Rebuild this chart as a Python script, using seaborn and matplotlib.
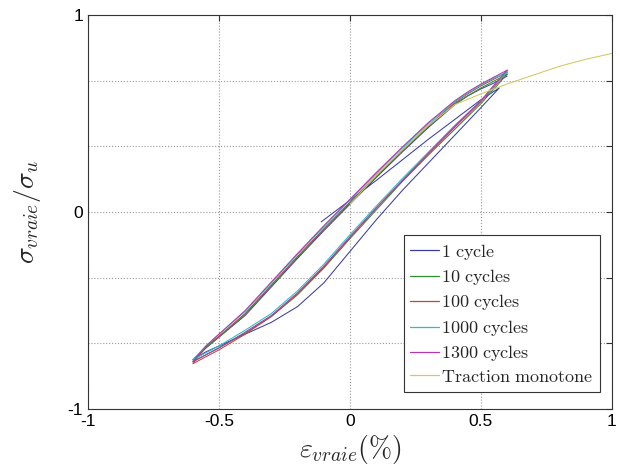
import matplotlib
matplotlib.use('Agg')
import matplotlib.pyplot as plt
from matplotlib.lines import Line2D
import seaborn as sns

# cycle 1 : unloading, reloading, partial unloading
c1_x = [0.6, 0.55, 0.5, 0.45, 0.4, 0.3, 0.2, 0.1, 0.0, -0.1, -0.2, -0.3, -0.4, -0.5, -0.55, -0.6,
        -0.55, -0.5, -0.4, -0.3, -0.2, -0.1, 0.0, 0.1, 0.2, 0.3, 0.4, 0.5, 0.57,
        0.5, 0.4, 0.3, 0.2, 0.1, 0.0, -0.11]
c1_y = [0.69, 0.655, 0.625, 0.59, 0.545, 0.43, 0.305, 0.175, 0.04, -0.095, -0.235, -0.38, -0.525, -0.635, -0.69, -0.75,
        -0.71, -0.68, -0.62, -0.56, -0.48, -0.36, -0.2, -0.04, 0.11, 0.25, 0.39, 0.53, 0.63,
        0.57, 0.47, 0.37, 0.265, 0.16, 0.06, -0.05]

c10_x = [0.6, 0.55, 0.5, 0.45, 0.4, 0.3, 0.2, 0.1, 0.0, -0.1, -0.2, -0.3, -0.4, -0.5, -0.55, -0.6,
         -0.55, -0.5, -0.4, -0.3, -0.2, -0.1, 0.0, 0.1, 0.2, 0.3, 0.4, 0.5, 0.55, 0.6]
c10_y = [0.7, 0.665, 0.63, 0.59, 0.55, 0.435, 0.31, 0.18, 0.045, -0.09, -0.23, -0.375, -0.52, -0.635, -0.69, -0.76,
         -0.725, -0.69, -0.615, -0.53, -0.42, -0.285, -0.135, 0.01, 0.155, 0.29, 0.42, 0.55, 0.625, 0.7]

c100_x = [0.6, 0.55, 0.5, 0.45, 0.4, 0.3, 0.2, 0.1, 0.0, -0.1, -0.2, -0.3, -0.4, -0.5, -0.55, -0.6,
          -0.55, -0.5, -0.4, -0.3, -0.2, -0.1, 0.0, 0.1, 0.2, 0.3, 0.4, 0.5, 0.55, 0.6]
c100_y = [0.71, 0.675, 0.64, 0.6, 0.555, 0.44, 0.315, 0.185, 0.05, -0.085, -0.225, -0.37, -0.515, -0.63, -0.685, -0.77,
          -0.735, -0.7, -0.62, -0.53, -0.415, -0.28, -0.13, 0.02, 0.16, 0.295, 0.43, 0.56, 0.635, 0.71]

c1000_x = [0.6, 0.55, 0.5, 0.45, 0.4, 0.3, 0.2, 0.1, 0.0, -0.1, -0.2, -0.3, -0.4, -0.5, -0.55, -0.6,
           -0.55, -0.5, -0.4, -0.3, -0.2, -0.1, 0.0, 0.1, 0.2, 0.3, 0.4, 0.5, 0.55, 0.6]
c1000_y = [0.71, 0.68, 0.645, 0.605, 0.56, 0.45, 0.325, 0.195, 0.06, -0.075, -0.215, -0.36, -0.505, -0.62, -0.68, -0.75,
           -0.715, -0.68, -0.6, -0.515, -0.4, -0.265, -0.115, 0.03, 0.17, 0.305, 0.44, 0.565, 0.64, 0.71]

c1300_x = [0.6, 0.55, 0.5, 0.45, 0.4, 0.3, 0.2, 0.1, 0.0, -0.1, -0.2, -0.3, -0.4, -0.5, -0.55, -0.6,
           -0.55, -0.5, -0.4, -0.3, -0.2, -0.1, 0.0, 0.1, 0.2, 0.3, 0.4, 0.5, 0.55, 0.6]
c1300_y = [0.72, 0.685, 0.65, 0.61, 0.565, 0.455, 0.33, 0.2, 0.065, -0.07, -0.21, -0.355, -0.5, -0.62, -0.68, -0.76,
           -0.725, -0.69, -0.61, -0.525, -0.41, -0.275, -0.125, 0.02, 0.16, 0.3, 0.435, 0.565, 0.645, 0.72]

mono_x = [0.0, 0.1, 0.2, 0.3, 0.4, 0.5, 0.55, 0.6, 0.7, 0.8, 0.9, 1.0]
mono_y = [0.04, 0.185, 0.315, 0.44, 0.545, 0.6, 0.625, 0.65, 0.695, 0.74, 0.775, 0.805]

series = [
    (c1_x, c1_y, '1 cycle', '#3c3ca8'),
    (c10_x, c10_y, '10 cycles', '#2f8f2f'),
    (c100_x, c100_y, '100 cycles', '#c04444'),
    (c1000_x, c1000_y, '1000 cycles', '#22c2c2'),
    (c1300_x, c1300_y, '1300 cycles', '#b038b0'),
    (mono_x, mono_y, 'Traction monotone', '#d2c860'),
]

sns.set_style('white')
plt.rcParams['font.family'] = ['Liberation Sans', 'DejaVu Sans']
plt.rcParams['mathtext.fontset'] = 'cm'

fig = plt.figure(figsize=(6.21, 4.73), dpi=100)
ax = fig.add_axes([0.1417, 0.1353, 0.8438, 0.8330])

for xs, ys, name, col in series:
    sns.lineplot(x=xs, y=ys, sort=False, estimator=None, color=col, lw=0.75, ax=ax)

ax.set_xlim(-1, 1)
ax.set_ylim(-1, 1)
ax.set_xticks([-1, -0.5, 0, 0.5, 1])
ax.set_xticklabels(['-1', '-0.5', '0', '0.5', '1'])
ax.set_yticks([-1, -2/3, -1/3, 0, 1/3, 2/3, 1])
ax.set_yticklabels(['-1', '', '', '0', '', '', '1'])
ax.tick_params(direction='in', length=4, width=0.8, labelsize=12.5, colors='#333333',
               top=True, right=True, labelcolor='black')
ax.grid(True, linestyle=':', color='#999999', lw=0.8)
for s in ax.spines.values():
    s.set_color('#333333')
    s.set_linewidth(0.8)

ax.set_xlabel(r'$\varepsilon_{vraie}(\%)$', fontsize=20, labelpad=3)
ax.set_ylabel(r'$\sigma_{vraie}/\sigma_u$', fontsize=20, labelpad=18)

handles = [Line2D([0], [0], color=s[3], lw=0.9) for s in series]
labels = [r'$\mathrm{%s}$' % s[2].replace(' ', r'\ ') for s in series]
leg = ax.legend(handles, labels, loc='lower right', bbox_to_anchor=(0.977, 0.043), fontsize=13,
                frameon=True, fancybox=False, framealpha=1, edgecolor='#333333',
                handlelength=1.6, handletextpad=0.15, labelspacing=0.3,
                borderpad=0.35, borderaxespad=0)
leg.get_frame().set_linewidth(0.8)

fig.savefig('out.png', dpi=100)
